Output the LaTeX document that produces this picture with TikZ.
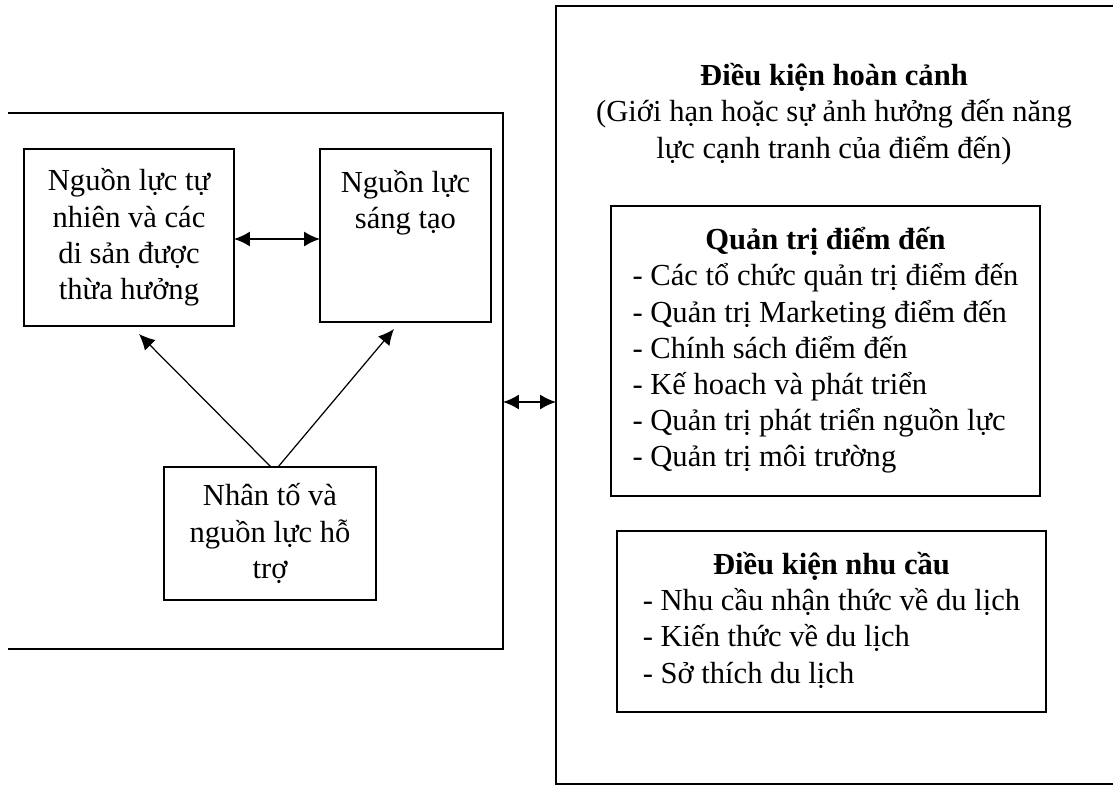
\documentclass[tikz,border=0pt]{standalone}
\usepackage{fontspec}
\setmainfont{Liberation Serif}
\usetikzlibrary{arrows.meta,calc}
\tikzset{
  khung/.style={draw, line width=0.9pt, inner sep=0pt, outer sep=0pt},
  chu/.style={font=\fontsize{17.4}{20.6}\selectfont, align=center},
  muiten/.style={line width=0.9pt, -{Latex[length=9pt,width=8.5pt]}},
  haimui/.style={line width=1pt, {Latex[length=9pt,width=8.5pt]}-{Latex[length=9pt,width=8.5pt]}}
}
\begin{document}
\begin{tikzpicture}[x=0.02cm,y=-0.02cm]
% \clip (0,0) rectangle (1113,785);
\useasboundingbox (0,0) rectangle (1113,785);
\clip (0,0) rectangle (1113,785);

% Drawing left frame (no left side)
\node [khung, draw=none, minimum width=495*0.02cm, minimum height=536*0.02cm] (nguonluc) at (255.5,381) {};
\draw [line width=0.9pt] (nguonluc.north west) -- (nguonluc.north east) -- (nguonluc.south east) -- (nguonluc.south west);

% Drawing boxes of resources
\node [khung, chu, minimum width=210*0.02cm, minimum height=177*0.02cm] (tunhien) at (129,237.5)
  {Nguồn lực tự\\nhiên và các\\di sản được\\thừa hưởng};
\node [khung, chu, minimum width=171*0.02cm, minimum height=173*0.02cm] (sangtao) at (405.5,235.5)
  {Nguồn lực\\sáng tạo\\\mbox{}\\\mbox{}};
\node [khung, chu, minimum width=212*0.02cm, minimum height=133*0.02cm] (hotro) at (270,533.5)
  {Nhân tố và\\nguồn lực hỗ\\trợ};

% Drawing arrows
\coordinate (dauA) at ($(tunhien.east)+(0,1.5)$);
\draw [haimui] (dauA) -- (dauA -| sangtao.west);
\draw [muiten, line width=0.7pt] ($(hotro.north)+(1,0)$) -- ($(tunhien.south)+(10,8)$);
\draw [muiten, line width=0.7pt] ($(hotro.north)+(8,0)$) -- ($(sangtao.south)+(-11.5,7)$);

% Drawing right frame
\node [khung, minimum width=660*0.02cm, minimum height=778*0.02cm] (hoancanh) at (886,395) {};
\node [chu] (tieude) at (834,114)
  {\textbf{Điều kiện hoàn cảnh}\\(Giới hạn hoặc sự ảnh hưởng đến năng\\lực cạnh tranh của điểm đến)};

\node [khung, chu, minimum width=429*0.02cm, minimum height=290*0.02cm] (quantri) at (825.5,351)
  {\begin{tabular}{@{}l@{}}
   \multicolumn{1}{@{}c@{}}{\textbf{Quản trị điểm đến}}\\
   - Các tổ chức quản trị điểm đến\\
   - Quản trị Marketing điểm đến\\
   - Chính sách điểm đến\\
   - Kế hoach và phát triển\\
   - Quản trị phát triển nguồn lực\\
   - Quản trị môi trường
   \end{tabular}};

\node [khung, chu, minimum width=429*0.02cm, minimum height=181*0.02cm] (nhucau) at (831.5,621.5)
  {\begin{tabular}{@{}l@{}}
   \multicolumn{1}{@{}c@{}}{\textbf{Điều kiện nhu cầu}}\\
   - Nhu cầu nhận thức về du lịch\\
   - Kiến thức về du lịch\\
   - Sở thích du lịch
   \end{tabular}};

% Drawing arrow between frames
\coordinate (dauB) at ($(nguonluc.east)+(0,21)$);
\draw [haimui] (dauB) -- (dauB -| hoancanh.west);
\end{tikzpicture}
\end{document}
